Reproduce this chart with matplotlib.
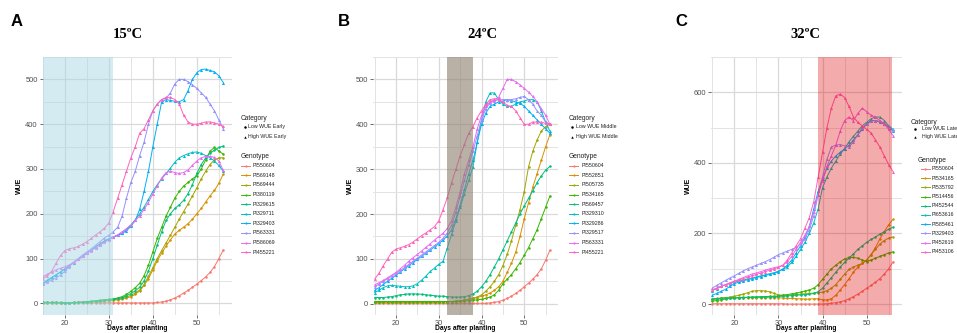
import matplotlib
matplotlib.use("Agg")
import matplotlib.pyplot as plt
from matplotlib.lines import Line2D

plt.rcParams['font.family'] = ['Liberation Sans', 'DejaVu Sans']

W, H = 957, 333

days = list(range(15, 57))

palette = ['#F8766D', '#D89000', '#A3A500', '#39B600', '#00BF7D',
           '#00BFC4', '#00B0F6', '#9590FF', '#E76BF3', '#FF62BC']

# ---- panel A, 15 C ----
geno_a = ['PI550604', 'PI569148', 'PI569444', 'PI380119', 'PI329615',
          'PI329711', 'PI329403', 'PI563331', 'PI586069', 'PI455221']
a_pi550604 = [2, 2, 2, 2, 1, 1, 1, 1, 1, 1, 1, 1, 1, 1, 1, 1, 1, 1, 1, 1, 1, 1, 1, 1, 1, 1,
              2, 3, 5, 8, 12, 17, 23, 29, 36, 43, 51, 59, 69, 82, 100, 119]
a_pi569148 = [1, 1, 1, 1, 1, 1, 1, 2, 2, 3, 3, 4, 4, 5, 5, 6, 7, 8, 10, 12, 15, 20, 28, 40, 55, 75,
              95, 112, 128, 142, 155, 163, 170, 178, 188, 200, 212, 226, 240, 252, 268, 288]
a_pi569444 = [1, 1, 1, 1, 1, 1, 1, 2, 2, 3, 3, 4, 4, 5, 6, 7, 8, 9, 11, 14, 18, 23, 30, 42, 60, 80,
              100, 118, 135, 152, 170, 188, 205, 222, 240, 258, 278, 295, 310, 320, 325, 325]
a_pi380119 = [2, 2, 2, 2, 2, 1, 1, 2, 2, 3, 4, 5, 6, 7, 8, 9, 10, 12, 15, 20, 27, 35, 45, 62, 85, 115,
              145, 170, 195, 215, 235, 250, 262, 270, 278, 285, 300, 320, 340, 348, 340, 333]
a_pi329615 = [2, 2, 2, 2, 1, 1, 1, 1, 2, 2, 3, 4, 5, 6, 7, 8, 9, 11, 13, 17, 22, 28, 36, 50, 72, 100,
              130, 160, 185, 200, 212, 220, 230, 245, 265, 290, 310, 325, 335, 342, 348, 351]
a_pi329711 = [45, 52, 58, 64, 70, 77, 84, 91, 98, 105, 112, 119, 126, 133, 139, 144, 148, 152, 157, 165,
              175, 187, 200, 215, 232, 250, 265, 278, 290, 302, 315, 325, 330, 334, 337, 338, 335, 330,
              325, 318, 308, 295]
a_pi329403 = [44, 50, 57, 63, 70, 77, 84, 91, 98, 105, 112, 119, 126, 133, 139, 144, 148, 152, 156, 162,
              172, 185, 210, 250, 295, 350, 400, 450, 455, 453, 451, 450, 455, 475, 500, 515, 522, 523,
              520, 517, 508, 493]
a_pi563331 = [44, 48, 52, 57, 63, 72, 82, 92, 100, 108, 115, 122, 130, 138, 146, 152, 160, 170, 195, 235,
              270, 295, 330, 360, 400, 430, 445, 455, 458, 470, 490, 500, 500, 495, 488, 480, 470, 460,
              445, 430, 410, 390]
a_pi586069 = [60, 65, 70, 75, 78, 82, 86, 92, 98, 105, 112, 118, 124, 130, 136, 142, 148, 153, 160, 167,
              175, 185, 195, 210, 225, 245, 262, 280, 292, 295, 292, 290, 292, 298, 308, 318, 325, 328,
              328, 326, 318, 297]
a_pi455221 = [55, 62, 72, 90, 107, 118, 122, 124, 127, 132, 138, 145, 153, 160, 168, 180, 205, 235, 265,
              295, 325, 350, 380, 390, 410, 430, 445, 455, 460, 460, 455, 445, 420, 405, 400, 400, 402,
              405, 405, 403, 400, 395]
series_a = [a_pi550604, a_pi569148, a_pi569444, a_pi380119, a_pi329615,
            a_pi329711, a_pi329403, a_pi563331, a_pi586069, a_pi455221]

# ---- panel B, 24 C ----
geno_b = ['PI550604', 'PI552851', 'PI505735', 'PI534165', 'PI569457',
          'PI329310', 'PI329286', 'PI329517', 'PI563331', 'PI455221']
b_pi550604 = [1, 1, 1, 1, 1, 1, 1, 1, 1, 1, 1, 1, 1, 1, 1, 1, 1, 1, 1, 1, 1, 1, 1, 1, 1, 1,
              1, 2, 3, 5, 8, 12, 17, 23, 30, 38, 46, 55, 65, 78, 97, 119]
b_pi552851 = [5, 5, 5, 5, 5, 5, 5, 5, 5, 5, 5, 5, 5, 5, 5, 5, 5, 5, 5, 6, 7, 8, 10, 12, 14, 17,
              20, 24, 30, 38, 50, 70, 90, 115, 150, 190, 225, 260, 290, 320, 350, 377]
b_pi505735 = [3, 3, 3, 3, 3, 3, 3, 3, 3, 3, 3, 3, 3, 3, 3, 3, 4, 4, 5, 6, 7, 8, 10, 12, 15, 20,
              28, 38, 50, 65, 85, 110, 140, 175, 210, 250, 305, 340, 365, 385, 395, 400]
b_pi534165 = [5, 5, 5, 5, 5, 5, 5, 5, 5, 5, 5, 5, 5, 5, 5, 5, 5, 5, 5, 5, 6, 6, 7, 8, 9, 10,
              12, 15, 20, 30, 45, 55, 65, 78, 92, 108, 125, 145, 165, 190, 215, 240]
b_pi569457 = [14, 14, 14, 15, 16, 18, 20, 21, 22, 22, 22, 21, 20, 19, 18, 17, 17, 16, 15, 15, 15, 16,
              18, 22, 28, 38, 50, 65, 82, 100, 120, 140, 160, 180, 200, 218, 235, 252, 270, 285, 298, 306]
b_pi329310 = [25, 30, 36, 40, 41, 40, 39, 38, 38, 40, 45, 53, 62, 72, 80, 88, 95, 125, 155, 185, 215,
              245, 275, 305, 360, 410, 450, 470, 470, 455, 445, 440, 440, 445, 450, 452, 455, 455, 450,
              430, 405, 385]
b_pi329286 = [30, 36, 43, 50, 57, 64, 71, 78, 85, 92, 99, 106, 113, 120, 127, 134, 142, 152, 165, 190,
              220, 255, 290, 320, 360, 400, 425, 440, 445, 450, 452, 455, 453, 450, 447, 440, 430, 420,
              410, 400, 390, 380]
b_pi329517 = [38, 44, 50, 56, 62, 68, 74, 81, 88, 95, 102, 109, 116, 123, 130, 137, 146, 158, 175, 205,
              240, 275, 310, 340, 375, 410, 435, 448, 452, 455, 455, 455, 455, 457, 460, 462, 455, 445,
              430, 420, 405, 400]
b_pi563331 = [42, 47, 52, 58, 64, 70, 78, 86, 95, 103, 110, 118, 126, 134, 142, 150, 157, 168, 185, 215,
              250, 290, 320, 350, 390, 420, 440, 450, 455, 460, 480, 500, 500, 495, 488, 480, 472, 462,
              450, 435, 420, 400]
b_pi455221 = [55, 68, 85, 100, 115, 122, 125, 128, 132, 138, 145, 152, 158, 165, 172, 185, 210, 237, 270,
              300, 330, 355, 380, 395, 415, 430, 445, 455, 457, 455, 450, 442, 440, 430, 415, 400, 400,
              405, 405, 405, 402, 400]
series_b = [b_pi550604, b_pi552851, b_pi505735, b_pi534165, b_pi569457,
            b_pi329310, b_pi329286, b_pi329517, b_pi563331, b_pi455221]

# ---- panel C, 32 C ----
geno_c = ['PI550604', 'PI534165', 'PI535792', 'PI514456', 'PI452544',
          'PI653616', 'PI585461', 'PI329403', 'PI452619', 'PI453106']
c_pi550604 = [1, 1, 1, 1, 1, 1, 1, 1, 1, 1, 1, 1, 1, 1, 1, 1, 1, 0, 0, 0, 0, 0, 0, 0, 0, 0,
              1, 2, 4, 6, 10, 15, 21, 28, 36, 45, 53, 62, 72, 85, 100, 120]
c_pi534165 = [15, 16, 17, 18, 18, 18, 18, 18, 18, 18, 18, 18, 18, 18, 18, 18, 17, 16, 16, 15, 15, 14,
              14, 15, 15, 12, 12, 15, 25, 40, 55, 72, 90, 105, 115, 125, 140, 160, 185, 205, 225, 240]
c_pi535792 = [12, 14, 16, 18, 20, 22, 25, 28, 32, 36, 38, 38, 37, 35, 30, 26, 25, 25, 26, 27, 28, 29,
              30, 31, 32, 34, 38, 45, 55, 70, 85, 98, 105, 110, 115, 125, 140, 155, 170, 180, 187, 190]
c_pi514456 = [8, 10, 12, 14, 16, 17, 18, 19, 19, 20, 20, 21, 21, 22, 22, 23, 25, 27, 29, 31, 34, 37,
              40, 45, 55, 70, 85, 100, 110, 120, 128, 132, 132, 130, 125, 120, 125, 130, 135, 140, 145, 148]
c_pi452544 = [14, 15, 16, 17, 17, 18, 18, 18, 19, 19, 20, 20, 20, 21, 21, 22, 22, 23, 24, 25, 26, 27,
              28, 30, 35, 45, 60, 75, 90, 105, 118, 130, 142, 155, 165, 175, 183, 190, 198, 205, 212, 218]
c_pi653616 = [38, 44, 50, 55, 58, 62, 65, 68, 71, 74, 77, 80, 83, 86, 89, 93, 98, 105, 118, 135, 155,
              175, 200, 230, 270, 330, 360, 385, 405, 425, 440, 460, 475, 490, 505, 515, 525, 530, 530,
              520, 505, 495]
c_pi585461 = [25, 30, 36, 42, 50, 58, 62, 66, 69, 72, 75, 78, 81, 84, 87, 92, 100, 110, 125, 145, 165,
              190, 220, 270, 320, 355, 385, 405, 420, 430, 440, 450, 465, 480, 495, 510, 520, 520, 515,
              510, 500, 490]
c_pi329403 = [45, 53, 60, 67, 74, 80, 87, 94, 100, 105, 110, 115, 120, 126, 133, 140, 145, 150, 155, 160,
              170, 185, 210, 250, 310, 360, 410, 445, 450, 452, 448, 445, 460, 480, 500, 510, 518, 520,
              518, 512, 503, 492]
c_pi452619 = [40, 45, 50, 55, 60, 65, 70, 75, 80, 85, 88, 92, 96, 100, 103, 106, 110, 120, 135, 155, 175,
              195, 220, 260, 310, 350, 390, 420, 450, 490, 520, 530, 520, 540, 555, 545, 535, 530, 520,
              510, 495, 477]
c_pi453106 = [40, 45, 50, 55, 60, 64, 68, 72, 76, 80, 84, 88, 92, 96, 100, 104, 110, 125, 145, 165, 185,
              215, 245, 290, 360, 430, 500, 555, 590, 595, 585, 560, 530, 515, 505, 495, 485, 465, 445,
              420, 395, 375]
series_c = [c_pi550604, c_pi534165, c_pi535792, c_pi514456, c_pi452544,
            c_pi653616, c_pi585461, c_pi329403, c_pi452619, c_pi453106]


def fx(px):
    return px / W


def fy(py):
    return 1 - py / H


fig = plt.figure(figsize=(W / 100, H / 100), dpi=100)


def panel(left, right, xlim, ylim, yticks, series, span, span_color, span_alpha):
    ax = fig.add_axes([fx(left), fy(315), fx(right - left), (315 - 57) / H])
    ax.set_xlim(*xlim)
    ax.set_ylim(*ylim)
    ax.set_xticks([20, 30, 40, 50])
    ax.set_xticks([15, 25, 35, 45, 55], minor=True)
    ax.set_yticks(yticks)
    step = yticks[1] - yticks[0]
    ax.set_yticks([t + step / 2 for t in yticks], minor=True)
    ax.grid(which='major', color='#D9D9D9', lw=0.9)
    ax.grid(which='minor', color='#E3E3E3', lw=0.7)
    ax.set_axisbelow(True)
    for s in ax.spines.values():
        s.set_visible(False)
    ax.tick_params(which='major', length=2, width=0.5, color='#333333',
                   labelsize=5.4, labelcolor='#4D4D4D', pad=1.5)
    ax.tick_params(which='minor', length=0)
    for i, vals in enumerate(series):
        mk = 'o' if i < 5 else '^'
        ax.plot(days, vals, color=palette[i], lw=0.7, marker=mk,
                ms=1.8 if mk == 'o' else 2.2, mew=0)
    x0 = xlim[0] if span[0] is None else span[0]
    ax.axvspan(x0, span[1], color=span_color, alpha=span_alpha, lw=0, zorder=5)
    ax.set_ylabel('WUE', fontsize=5, fontweight='bold', labelpad=1.5)
    fig.text(fx((left + right) / 2), fy(328.5), 'Days after planting', fontsize=4.8,
             fontweight='bold', ha='center', va='center')
    return ax


ax_a = panel(42.5, 232, (14.9, 58), (-26, 550), [0, 100, 200, 300, 400, 500],
             series_a, (None, 31), '#ADD8E6', 0.5)
ax_b = panel(373, 558, (14.6, 57.9), (-25, 525), [0, 100, 200, 300, 400, 500],
             series_b, (32, 38), '#8B7D6B', 0.6)
ax_c = panel(711, 901.7, (14.7, 57.95), (-31, 625), [0, 200, 400, 600],
             series_c, (39, 55.8), '#E00000', 0.33)

# titles and panel letters
for lab, tx, ttl, tcx in [('A', 11, '15ºC', 128), ('B', 338, '24ºC', 482), ('C', 675, '32ºC', 805)]:
    fig.text(fx(tx), fy(21), lab, fontsize=12, fontweight='bold', va='center', ha='left')
    fig.text(fx(tcx), fy(35), ttl, fontsize=10.5, fontweight='bold', va='center', ha='center',
             family=['Liberation Serif', 'DejaVu Serif'])


def legend(cat_x, cat_y, low_y, high_y, mk_x, txt_x, cat_names,
           gen_x, gen_y, line_x0, line_x1, gtxt_x, first_y, step, genos):
    fig.text(fx(cat_x), fy(cat_y), 'Category', fontsize=4.8, va='center', color='#222222')
    for yy, mk, name in [(low_y, 'o', cat_names[0]), (high_y, '^', cat_names[1])]:
        fig.add_artist(Line2D([fx(mk_x)], [fy(yy)], marker=mk, ms=1.8, color='black', mew=0,
                              transform=fig.transFigure))
        fig.text(fx(txt_x), fy(yy), name, fontsize=3.8, va='center', color='#222222')
    fig.text(fx(gen_x), fy(gen_y), 'Genotype', fontsize=4.8, va='center', color='#222222')
    for i, g in enumerate(genos):
        yy = first_y + i * step
        fig.add_artist(Line2D([fx(line_x0), fx(line_x1)], [fy(yy), fy(yy)], color=palette[i],
                              lw=0.7, transform=fig.transFigure))
        fig.add_artist(Line2D([fx((line_x0 + line_x1) / 2)], [fy(yy)], color=palette[i],
                              marker='o', ms=1.6, mew=0, transform=fig.transFigure))
        fig.text(fx(gtxt_x), fy(yy), g, fontsize=3.8, va='center', color='#222222')


legend(240.5, 118, 127, 136.7, 245, 248.5, ['Low WUE Early', 'High WUE Early'],
       240.5, 156.7, 241.5, 250, 253, 165.7, 9.6, geno_a)
legend(568.3, 118, 127, 136.7, 572.3, 576, ['Low WUE Middle', 'High WUE Middle'],
       568.3, 156.7, 569, 578, 581.7, 165.7, 9.6, geno_b)
legend(910.5, 122, 128.5, 137, 915, 921.5, ['Low WUE Late', 'High WUE Late'],
       918, 161, 920.7, 930, 931.5, 169, 9.2, geno_c)

fig.savefig('out.png', dpi=100)
